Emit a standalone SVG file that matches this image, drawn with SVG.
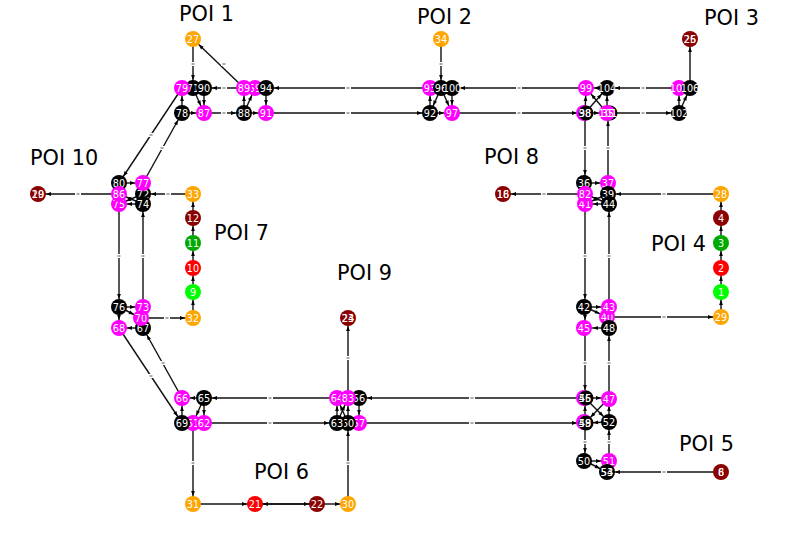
<svg xmlns="http://www.w3.org/2000/svg" width="785" height="543" viewBox="0 0 785 543">
<style>
text{font-family:"DejaVu Sans",sans-serif}
.p{font-size:20.8px;fill:#000}
.n text{font-size:9.7px;fill:#fff;text-anchor:middle;dominant-baseline:central}
.n circle{stroke:none}
.o{fill:#ffa500}.d{fill:#8b0000}.m{fill:#f0f}.k{fill:#000}.l{fill:#0f0}.g{fill:#0a0}.r{fill:#f00}
#edges line{stroke:#111;stroke-width:1.4;marker-end:url(#a)}
.t{fill:#fff}.u{fill:#aaa}
</style>
<defs>
<marker id="a" markerUnits="userSpaceOnUse" viewBox="-1 -4 25 8" markerWidth="25" markerHeight="8" refX="13" refY="0" orient="auto"><path d="M0-1.9L5 0L0 1.9z" fill="#000"/></marker>
<g id="t"><rect class="t" x="-3" y="-2" width="6" height="4"/><rect class="u" x="-1.5" y="-1" width="3" height="2"/></g>
</defs>
<rect width="785" height="543" fill="#fff"/>
<g id="edges">
<line x1="193" y1="39" x2="193" y2="88"/>
<line x1="244" y1="88" x2="193" y2="39"/>
<line x1="244" y1="88" x2="204" y2="88"/>
<line x1="204" y1="88" x2="193" y2="88"/>
<line x1="193" y1="88" x2="182" y2="88"/>
<line x1="193" y1="88" x2="204" y2="113"/>
<line x1="204" y1="88" x2="204" y2="113"/>
<line x1="182" y1="113" x2="182" y2="88"/>
<line x1="182" y1="113" x2="204" y2="113"/>
<line x1="204" y1="113" x2="244" y2="113"/>
<line x1="244" y1="113" x2="244" y2="88"/>
<line x1="244" y1="113" x2="255" y2="88"/>
<line x1="244" y1="113" x2="266" y2="113"/>
<line x1="266" y1="88" x2="266" y2="113"/>
<line x1="266" y1="88" x2="244" y2="88"/>
<line x1="430" y1="88" x2="266" y2="88"/>
<line x1="266" y1="113" x2="430" y2="113"/>
<line x1="441" y1="39" x2="441" y2="88"/>
<line x1="430" y1="113" x2="430" y2="88"/>
<line x1="441" y1="88" x2="430" y2="113"/>
<line x1="441" y1="88" x2="452" y2="113"/>
<line x1="452" y1="88" x2="452" y2="113"/>
<line x1="452" y1="88" x2="441" y2="88"/>
<line x1="430" y1="113" x2="452" y2="113"/>
<line x1="586" y1="88" x2="452" y2="88"/>
<line x1="452" y1="113" x2="585" y2="113"/>
<line x1="607" y1="88" x2="586" y2="88"/>
<line x1="585" y1="113" x2="586" y2="88"/>
<line x1="585" y1="113" x2="607" y2="88"/>
<line x1="607" y1="113" x2="586" y2="88"/>
<line x1="585" y1="113" x2="607" y2="113"/>
<line x1="607" y1="113" x2="607" y2="88"/>
<line x1="679" y1="88" x2="607" y2="88"/>
<line x1="607" y1="113" x2="679" y2="113"/>
<line x1="679" y1="113" x2="690" y2="88"/>
<line x1="679" y1="113" x2="679" y2="88"/>
<line x1="690" y1="88" x2="690" y2="39"/>
<line x1="182" y1="88" x2="119" y2="183"/>
<line x1="143" y1="183" x2="182" y2="113"/>
<line x1="119" y1="183" x2="143" y2="183"/>
<line x1="119" y1="183" x2="119" y2="194"/>
<line x1="119" y1="194" x2="38" y2="194"/>
<line x1="193" y1="194" x2="143" y2="194"/>
<line x1="143" y1="194" x2="143" y2="183"/>
<line x1="143" y1="194" x2="119" y2="204"/>
<line x1="143" y1="204" x2="119" y2="204"/>
<line x1="143" y1="204" x2="119" y2="194"/>
<line x1="119" y1="204" x2="119" y2="307"/>
<line x1="143" y1="307" x2="143" y2="204"/>
<line x1="119" y1="307" x2="143" y2="307"/>
<line x1="119" y1="307" x2="141" y2="318"/>
<line x1="119" y1="307" x2="119" y2="328"/>
<line x1="143" y1="328" x2="119" y2="328"/>
<line x1="141" y1="318" x2="193" y2="318"/>
<line x1="193" y1="318" x2="193" y2="292"/>
<line x1="193" y1="292" x2="193" y2="268"/>
<line x1="193" y1="268" x2="193" y2="243"/>
<line x1="193" y1="243" x2="193" y2="218"/>
<line x1="193" y1="218" x2="193" y2="194"/>
<line x1="119" y1="328" x2="182" y2="423"/>
<line x1="182" y1="398" x2="143" y2="328"/>
<line x1="182" y1="423" x2="182" y2="398"/>
<line x1="204" y1="398" x2="182" y2="398"/>
<line x1="204" y1="398" x2="193" y2="423"/>
<line x1="204" y1="398" x2="204" y2="423"/>
<line x1="193" y1="423" x2="193" y2="504"/>
<line x1="337" y1="398" x2="204" y2="398"/>
<line x1="204" y1="423" x2="337" y2="423"/>
<line x1="193" y1="504" x2="255" y2="504"/>
<line x1="255" y1="504" x2="317" y2="504"/>
<line x1="317" y1="504" x2="255" y2="504"/>
<line x1="317" y1="504" x2="348" y2="504"/>
<line x1="348" y1="504" x2="348" y2="423"/>
<line x1="337" y1="423" x2="337" y2="398"/>
<line x1="337" y1="423" x2="348" y2="398"/>
<line x1="348" y1="423" x2="337" y2="398"/>
<line x1="348" y1="423" x2="348" y2="398"/>
<line x1="348" y1="398" x2="348" y2="318"/>
<line x1="359" y1="398" x2="359" y2="423"/>
<line x1="359" y1="398" x2="348" y2="398"/>
<line x1="585" y1="398" x2="359" y2="398"/>
<line x1="359" y1="423" x2="585" y2="423"/>
<line x1="585" y1="423" x2="585" y2="398"/>
<line x1="585" y1="398" x2="609" y2="398"/>
<line x1="585" y1="398" x2="609" y2="422"/>
<line x1="609" y1="398" x2="585" y2="423"/>
<line x1="609" y1="422" x2="609" y2="398"/>
<line x1="609" y1="422" x2="585" y2="423"/>
<line x1="585" y1="423" x2="585" y2="461"/>
<line x1="609" y1="461" x2="609" y2="422"/>
<line x1="585" y1="461" x2="609" y2="461"/>
<line x1="585" y1="461" x2="607" y2="472"/>
<line x1="721" y1="472" x2="607" y2="472"/>
<line x1="609" y1="398" x2="609" y2="328"/>
<line x1="585" y1="328" x2="585" y2="398"/>
<line x1="609" y1="328" x2="585" y2="328"/>
<line x1="585" y1="307" x2="585" y2="328"/>
<line x1="585" y1="307" x2="609" y2="307"/>
<line x1="585" y1="307" x2="607" y2="317"/>
<line x1="607" y1="317" x2="721" y2="317"/>
<line x1="721" y1="317" x2="721" y2="292"/>
<line x1="721" y1="292" x2="721" y2="268"/>
<line x1="721" y1="268" x2="721" y2="243"/>
<line x1="721" y1="243" x2="721" y2="218"/>
<line x1="721" y1="218" x2="721" y2="194"/>
<line x1="721" y1="194" x2="608" y2="194"/>
<line x1="609" y1="307" x2="609" y2="204"/>
<line x1="585" y1="204" x2="585" y2="307"/>
<line x1="609" y1="204" x2="585" y2="204"/>
<line x1="609" y1="204" x2="585" y2="194"/>
<line x1="608" y1="194" x2="585" y2="204"/>
<line x1="608" y1="194" x2="608" y2="183"/>
<line x1="585" y1="183" x2="608" y2="183"/>
<line x1="585" y1="183" x2="585" y2="194"/>
<line x1="585" y1="194" x2="503" y2="194"/>
<line x1="585" y1="113" x2="585" y2="183"/>
<line x1="608" y1="183" x2="608" y2="113"/>
<use href="#t" x="193" y="64"/><use href="#t" x="224" y="64"/><use href="#t" x="224" y="88"/><use href="#t" x="224" y="113"/>
<use href="#t" x="348" y="88"/><use href="#t" x="348" y="113"/><use href="#t" x="441" y="64"/><use href="#t" x="519" y="88"/><use href="#t" x="519" y="113"/>
<use href="#t" x="643" y="88"/><use href="#t" x="643" y="113"/><use href="#t" x="151" y="135"/><use href="#t" x="162" y="148"/>
<use href="#t" x="119" y="256"/><use href="#t" x="143" y="256"/><use href="#t" x="78" y="194"/><use href="#t" x="168" y="194"/><use href="#t" x="167" y="318"/>
<use href="#t" x="151" y="376"/><use href="#t" x="163" y="363"/><use href="#t" x="270" y="398"/><use href="#t" x="270" y="423"/><use href="#t" x="193" y="463"/>
<use href="#t" x="348" y="463"/><use href="#t" x="348" y="358"/><use href="#t" x="472" y="398"/><use href="#t" x="472" y="423"/>
<use href="#t" x="585" y="256"/><use href="#t" x="609" y="256"/><use href="#t" x="585" y="363"/><use href="#t" x="609" y="363"/>
<use href="#t" x="585" y="442"/><use href="#t" x="609" y="442"/><use href="#t" x="664" y="472"/><use href="#t" x="664" y="317"/><use href="#t" x="664" y="194"/>
<use href="#t" x="585" y="148"/><use href="#t" x="608" y="148"/><use href="#t" x="544" y="194"/>
</g>
<g id="nodes" class="n">
<g id="n1"><circle class="l" cx="721" cy="292" r="8"/><text x="721" y="292">1</text></g>
<g id="n2"><circle class="r" cx="721" cy="268" r="8"/><text x="721" y="268">2</text></g>
<g id="n3"><circle class="g" cx="721" cy="243" r="8"/><text x="721" y="243">3</text></g>
<g id="n4"><circle class="d" cx="721" cy="218" r="8"/><text x="721" y="218">4</text></g>
<g id="n6-8"><circle class="d" cx="721" cy="472" r="8"/><text x="721" y="472">6</text><text x="721" y="472">8</text></g>
<g id="n9"><circle class="l" cx="193" cy="292" r="8"/><text x="193" y="292">9</text></g>
<g id="n10"><circle class="r" cx="193" cy="268" r="8"/><text x="193" y="268">10</text></g>
<g id="n11"><circle class="g" cx="193" cy="243" r="8"/><text x="193" y="243">11</text></g>
<g id="n12"><circle class="d" cx="193" cy="218" r="8"/><text x="193" y="218">12</text></g>
<g id="n16-18"><circle class="d" cx="503" cy="194" r="8"/><text x="503" y="194">16</text><text x="503" y="194">18</text></g>
<g id="n19-20"><circle class="d" cx="38" cy="194" r="8"/><text x="38" y="194">19</text><text x="38" y="194">20</text></g>
<g id="n21"><circle class="r" cx="255" cy="504" r="8"/><text x="255" y="504">21</text></g>
<g id="n22"><circle class="d" cx="317" cy="504" r="8"/><text x="317" y="504">22</text></g>
<g id="n23-24"><circle class="d" cx="348" cy="318" r="8"/><text x="348" y="318">23</text><text x="348" y="318">24</text></g>
<g id="n25-26"><circle class="d" cx="690" cy="39" r="8"/><text x="690" y="39">25</text><text x="690" y="39">26</text></g>
<g id="n27"><circle class="o" cx="193" cy="39" r="8"/><text x="193" y="39">27</text></g>
<g id="n28"><circle class="o" cx="721" cy="194" r="8"/><text x="721" y="194">28</text></g>
<g id="n29"><circle class="o" cx="721" cy="317" r="8"/><text x="721" y="317">29</text></g>
<g id="n30"><circle class="o" cx="348" cy="504" r="8"/><text x="348" y="504">30</text></g>
<g id="n31"><circle class="o" cx="193" cy="504" r="8"/><text x="193" y="504">31</text></g>
<g id="n32"><circle class="o" cx="193" cy="318" r="8"/><text x="193" y="318">32</text></g>
<g id="n33"><circle class="o" cx="193" cy="194" r="8"/><text x="193" y="194">33</text></g>
<g id="n34"><circle class="o" cx="441" cy="39" r="8"/><text x="441" y="39">34</text></g>
<g id="n36"><circle class="k" cx="584" cy="183" r="8"/><text x="584" y="183">36</text></g>
<g id="n37"><circle class="m" cx="608" cy="183" r="8"/><text x="608" y="183">37</text></g>
<g id="n39"><circle class="k" cx="608" cy="194" r="8"/><text x="608" y="194">39</text></g>
<g id="n40"><circle class="m" cx="607" cy="317" r="8"/><text x="607" y="317">40</text></g>
<g id="n41"><circle class="m" cx="585" cy="204" r="8"/><text x="585" y="204">41</text></g>
<g id="n42"><circle class="k" cx="584" cy="307" r="8"/><text x="584" y="307">42</text></g>
<g id="n43"><circle class="m" cx="609" cy="307" r="8"/><text x="609" y="307">43</text></g>
<g id="n44"><circle class="k" cx="609" cy="204" r="8"/><text x="609" y="204">44</text></g>
<g id="n45"><circle class="m" cx="584" cy="328" r="8"/><text x="584" y="328">45</text></g>
<g id="n47"><circle class="m" cx="609" cy="399" r="8"/><text x="609" y="399">47</text></g>
<g id="n48"><circle class="k" cx="609" cy="328" r="8"/><text x="609" y="328">48</text></g>
<g id="n50"><circle class="k" cx="584" cy="461" r="8"/><text x="584" y="461">50</text></g>
<g id="n51"><circle class="m" cx="609" cy="461" r="8"/><text x="609" y="461">51</text></g>
<g id="n52"><circle class="k" cx="609" cy="422" r="8"/><text x="609" y="422">52</text></g>
<g id="n53-54"><circle class="k" cx="607" cy="472" r="8"/><text x="607" y="472">53</text><text x="607" y="472">54</text></g>
<g id="n46-55"><circle class="m" cx="584" cy="398" r="8"/><circle class="k" cx="586" cy="398" r="7.5"/><text x="585" y="398">46</text><text x="585" y="398">55</text></g>
<g id="n49-58"><circle class="m" cx="584" cy="422" r="8"/><circle class="k" cx="586" cy="423" r="7.5"/><text x="585" y="423">49</text><text x="585" y="423">58</text></g>
<g id="n56"><circle class="k" cx="359" cy="398" r="8"/><text x="359" y="398">56</text></g>
<g id="n57"><circle class="m" cx="359" cy="423" r="8"/><text x="359" y="423">57</text></g>
<g id="n59"><circle class="m" cx="255" cy="88" r="8"/><text x="255" y="88">59</text></g>
<g id="n60"><circle class="k" cx="348" cy="423" r="8"/><text x="348" y="423">60</text></g>
<g id="n61"><circle class="m" cx="193" cy="423" r="8"/><text x="193" y="423">61</text></g>
<g id="n62"><circle class="m" cx="204" cy="423" r="8"/><text x="204" y="423">62</text></g>
<g id="n63"><circle class="k" cx="337" cy="423" r="8"/><text x="337" y="423">63</text></g>
<g id="n64"><circle class="m" cx="337" cy="398" r="8"/><text x="337" y="398">64</text></g>
<g id="n65"><circle class="k" cx="204" cy="398" r="8"/><text x="204" y="398">65</text></g>
<g id="n66"><circle class="m" cx="182" cy="398" r="8"/><text x="182" y="398">66</text></g>
<g id="n67"><circle class="k" cx="143" cy="328" r="8"/><text x="143" y="328">67</text></g>
<g id="n68"><circle class="m" cx="119" cy="328" r="8"/><text x="119" y="328">68</text></g>
<g id="n69"><circle class="k" cx="182" cy="423" r="8"/><text x="182" y="423">69</text></g>
<g id="n70"><circle class="m" cx="141" cy="318" r="8"/><text x="141" y="318">70</text></g>
<g id="n71"><circle class="k" cx="193" cy="88" r="8"/><text x="193" y="88">71</text></g>
<g id="n72"><circle class="k" cx="143" cy="194" r="8"/><text x="143" y="194">72</text></g>
<g id="n73"><circle class="m" cx="143" cy="307" r="8"/><text x="143" y="307">73</text></g>
<g id="n74"><circle class="k" cx="143" cy="204" r="8"/><text x="143" y="204">74</text></g>
<g id="n75"><circle class="m" cx="119" cy="204" r="8"/><text x="119" y="204">75</text></g>
<g id="n76"><circle class="k" cx="119" cy="307" r="8"/><text x="119" y="307">76</text></g>
<g id="n77"><circle class="m" cx="143" cy="183" r="8"/><text x="143" y="183">77</text></g>
<g id="n78"><circle class="k" cx="182" cy="113" r="8"/><text x="182" y="113">78</text></g>
<g id="n79"><circle class="m" cx="182" cy="88" r="8"/><text x="182" y="88">79</text></g>
<g id="n80"><circle class="k" cx="119" cy="183" r="8"/><text x="119" y="183">80</text></g>
<g id="n82"><circle class="m" cx="585" cy="194" r="8"/><text x="585" y="194">82</text></g>
<g id="n83"><circle class="m" cx="348" cy="398" r="8"/><text x="348" y="398">83</text></g>
<g id="n86"><circle class="m" cx="119" cy="194" r="8"/><text x="119" y="194">86</text></g>
<g id="n87"><circle class="m" cx="204" cy="113" r="8"/><text x="204" y="113">87</text></g>
<g id="n88"><circle class="k" cx="244" cy="113" r="8"/><text x="244" y="113">88</text></g>
<g id="n89"><circle class="m" cx="244" cy="88" r="8"/><text x="244" y="88">89</text></g>
<g id="n90"><circle class="k" cx="204" cy="88" r="8"/><text x="204" y="88">90</text></g>
<g id="n91"><circle class="m" cx="266" cy="113" r="8"/><text x="266" y="113">91</text></g>
<g id="n92"><circle class="k" cx="430" cy="113" r="8"/><text x="430" y="113">92</text></g>
<g id="n93"><circle class="m" cx="430" cy="88" r="8"/><text x="430" y="88">93</text></g>
<g id="n94"><circle class="k" cx="266" cy="88" r="8"/><text x="266" y="88">94</text></g>
<g id="n96"><circle class="k" cx="441" cy="88" r="8"/><text x="441" y="88">96</text></g>
<g id="n97"><circle class="m" cx="452" cy="113" r="8"/><text x="452" y="113">97</text></g>
<g id="n38-98"><circle class="m" cx="584" cy="113" r="8"/><circle class="k" cx="586" cy="113" r="7.5"/><text x="585" y="113">38</text><text x="585" y="113">98</text></g>
<g id="n99"><circle class="m" cx="586" cy="88" r="8"/><text x="586" y="88">99</text></g>
<g id="n100"><circle class="k" cx="452" cy="88" r="8"/><text x="452" y="88">100</text></g>
<g id="n35-101"><circle class="k" cx="610" cy="113" r="7.5"/><circle class="m" cx="607" cy="113" r="8"/><text x="608" y="113">35</text><text x="608" y="113">101</text></g>
<g id="n102"><circle class="k" cx="679" cy="113" r="8"/><text x="679" y="113">102</text></g>
<g id="n104"><circle class="k" cx="607" cy="88" r="8"/><text x="607" y="88">104</text></g>
<g id="n105"><circle class="m" cx="679" cy="88" r="8"/><text x="679" y="88">105</text></g>
<g id="n106"><circle class="k" cx="690" cy="88" r="8"/><text x="690" y="88">106</text></g>
</g>
<g id="labels">
<text class="p" x="179" y="21">POI 1</text>
<text class="p" x="417" y="24">POI 2</text>
<text class="p" x="704" y="25">POI 3</text>
<text class="p" x="651" y="251">POI 4</text>
<text class="p" x="679" y="451">POI 5</text>
<text class="p" x="254" y="479">POI 6</text>
<text class="p" x="214" y="240">POI 7</text>
<text class="p" x="484" y="164">POI 8</text>
<text class="p" x="337" y="280">POI 9</text>
<text class="p" x="30" y="165">POI 10</text>
</g>
</svg>
